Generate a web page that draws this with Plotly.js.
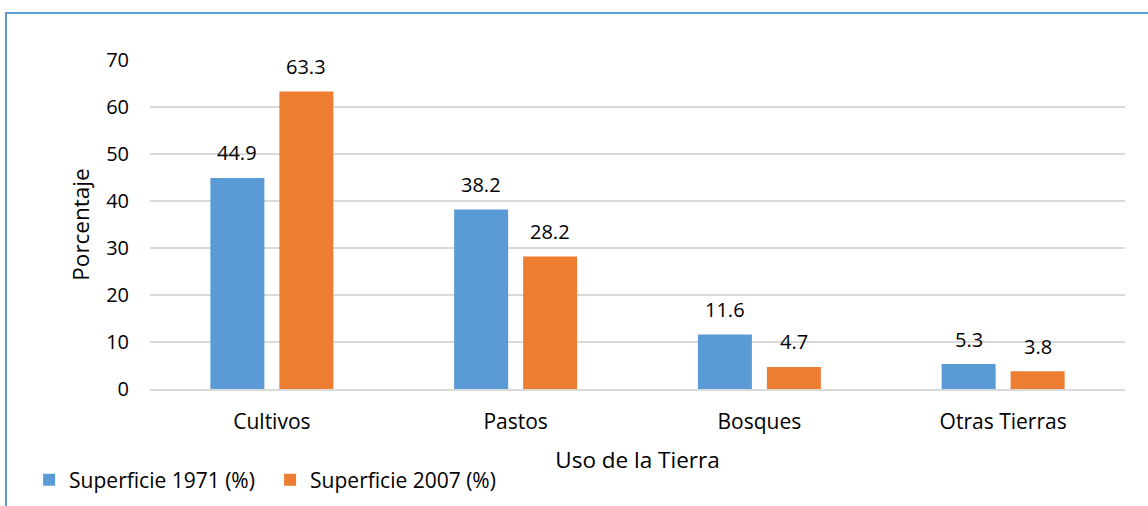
<!DOCTYPE html>
<html>
<head>
<meta charset="utf-8">
<script src="https://cdn.plot.ly/plotly-3.0.1.min.js"></script>
<style>
html,body{margin:0;padding:0;background:#fff;}
#wrap{position:relative;width:1148px;height:506px;overflow:hidden;}
#frame{position:absolute;left:5px;top:12px;width:1200px;height:600px;border-left:2px solid #5B9BD5;border-top:2px solid #5B9BD5;pointer-events:none;z-index:5;}
#chart{position:absolute;left:0;top:0;width:1148px;height:506px;}
</style>
</head>
<body>
<div id="wrap"><div id="chart"></div><div id="frame"></div></div>
<script>
const categories = ["Cultivos", "Pastos", "Bosques", "Otras Tierras"];
const seriesNames = ["Superficie 1971 (%)", "Superficie 2007 (%)"];
const values1971 = [44.9, 38.2, 11.6, 5.3];
const values2007 = [63.3, 28.2, 4.7, 3.8];
const yTicks = [0, 10, 20, 30, 40, 50, 60, 70];

const FONT = "'Open Sans', 'Noto Sans', sans-serif";
const colors = ["#5B9BD5", "#ED7D31"];
const series = [values1971, values2007];

const traces = series.map((vals, i) => ({
  type: "bar",
  name: seriesNames[i],
  x: categories,
  y: vals,
  marker: {color: colors[i]},
  hoverinfo: "x+y"
}));

const annotations = [];
series.forEach((vals, i) => {
  vals.forEach((v, j) => {
    annotations.push({
      x: categories[j], y: v, xref: "x", yref: "y",
      text: v.toFixed(1), showarrow: false,
      xshift: (i === 0 ? -34.5 : 34.5), yshift: 25,
      yanchor: "middle",
      font: {family: FONT, size: 20, color: "#000"}
    });
  });
});

const layout = {
  width: 1148, height: 506,
  margin: {l: 150, r: 23, t: 60, b: 117, autoexpand: false},
  paper_bgcolor: "#fff", plot_bgcolor: "#fff",
  font: {family: FONT, size: 20, color: "#000"},
  barmode: "group",
  bargap: 0.434,
  bargroupgap: 0.217,
  showlegend: true,
  legend: {
    orientation: "h", x: -0.124, xanchor: "left", y: -0.277, yanchor: "middle",
    font: {family: FONT, size: 21, color: "#000"},
    entrywidth: 196, tracegroupgap: 0
  },
  xaxis: {
    type: "category",
    showgrid: false,
    showline: true, linecolor: "#d9d9d9", linewidth: 2,
    ticks: "", ticklabelstandoff: 13,
    tickfont: {family: FONT, size: 21, color: "#000"},
    title: {text: "Uso de la Tierra", font: {family: FONT, size: 22.5, color: "#000"}, standoff: 18}
  },
  yaxis: {
    range: [0, 70],
    tickvals: yTicks,
    ticktext: yTicks.map(String),
    showgrid: true, gridcolor: "#d9d9d9", gridwidth: 2,
    zeroline: false, showline: false,
    ticks: "", ticklabelstandoff: 20,
    tickfont: {family: FONT, size: 20, color: "#000"},
    title: {text: "Porcentaje", font: {family: FONT, size: 22.5, color: "#000"}, standoff: 10}
  },
  annotations: annotations
};

Plotly.newPlot("chart", traces, layout, {displayModeBar: false, staticPlot: true});
</script>
</body>
</html>
